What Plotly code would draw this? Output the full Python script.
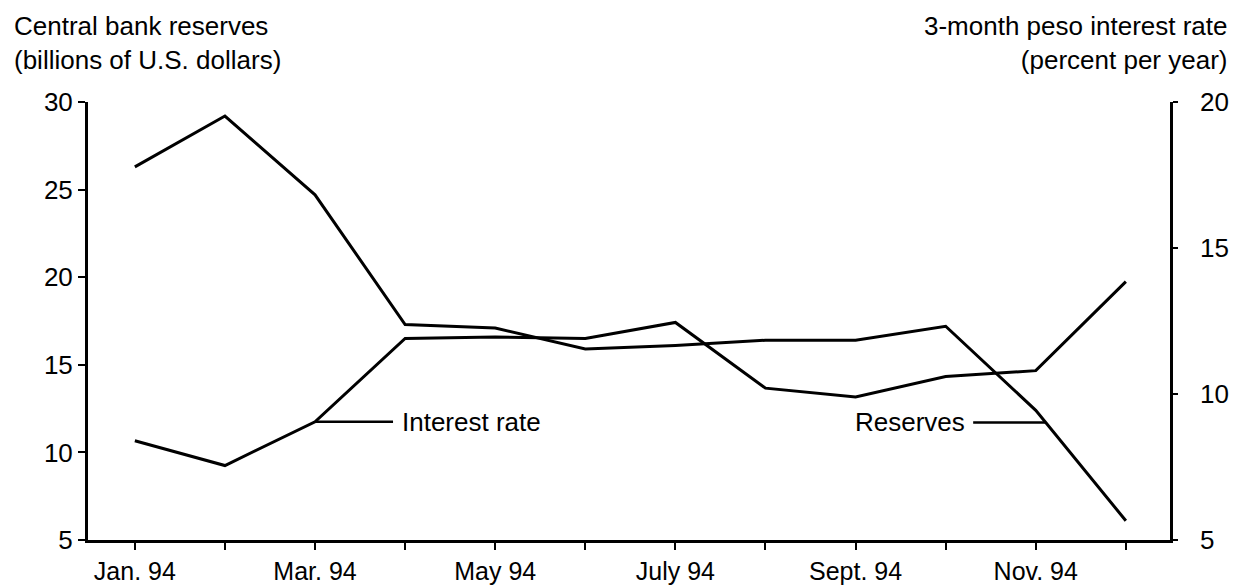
import numpy as np
import plotly.graph_objects as go

# months of 1994, with a label on every other tick
months = list(range(12))
month_labels = ["Jan. 94", "", "Mar. 94", "", "May 94", "", "July 94", "",
                "Sept. 94", "", "Nov. 94", ""]

# central bank reserves, billions of U.S. dollars (left axis)
reserves = [26.3, 29.2, 24.7, 17.3, 17.1, 15.9, 16.1, 16.4, 16.4, 17.2, 12.4, 6.1]
# 3-month peso interest rate, percent per year (right axis)
interest = [8.4, 7.55, 9.05, 11.9, 11.95, 11.9, 12.45, 10.2, 9.9, 10.6, 10.8, 13.85]

FONT = "Liberation Sans, Arial, Helvetica, sans-serif"
FS = 26

fig = go.Figure()

fig.add_trace(go.Scatter(
    x=months, y=reserves, mode="lines", name="Reserves",
    line=dict(color="black", width=3), yaxis="y"
))
fig.add_trace(go.Scatter(
    x=months, y=interest, mode="lines", name="Interest rate",
    line=dict(color="black", width=3), yaxis="y2"
))

# point on the reserves line where its label pointer lands
res_x = 10.11
res_y = float(np.interp(res_x, months, reserves))

# page has an 8px body margin, so the figure is sized/offset for it
fig.update_layout(
    width=1235, height=580,
    margin=dict(l=80, r=73, t=94, b=48),
    paper_bgcolor="white", plot_bgcolor="white",
    showlegend=False,
    font=dict(family=FONT, size=FS, color="black"),
    xaxis=dict(
        range=[-0.52, 11.49], tickvals=months, ticktext=month_labels,
        showline=True, linecolor="black", linewidth=3,
        ticks="outside", ticklen=7, tickwidth=2, tickcolor="black",
        tickfont=dict(size=25),
        automargin=False,
        showgrid=False, zeroline=False,
    ),
    yaxis=dict(
        range=[5, 30], tickvals=[5, 10, 15, 20, 25, 30],
        showline=True, linecolor="black", linewidth=3,
        ticks="outside", ticklen=7, tickwidth=2, tickcolor="black",
        ticklabelstandoff=0, automargin=False,
        showgrid=False, zeroline=False,
    ),
    yaxis2=dict(
        range=[5, 20], tickvals=[5, 10, 15, 20], overlaying="y", side="right",
        showline=True, linecolor="black", linewidth=2.5,
        ticks="outside", ticklen=5, tickwidth=2, tickcolor="black",
        ticklabelstandoff=17, automargin=False,
        showgrid=False, zeroline=False,
    ),
    annotations=[
        dict(text="Central bank reserves<br>(billions of U.S. dollars)",
             xref="paper", yref="paper", x=-0.0702, y=1.212,
             xanchor="left", yanchor="top", align="left", showarrow=False),
        dict(text="3-month peso interest rate<br>(percent per year)",
             xref="paper", yref="paper", x=1.0555, y=1.212,
             xanchor="right", yanchor="top", align="right", showarrow=False),
        dict(text="Interest rate", xref="x", yref="y2",
             x=months[2], y=interest[2], ax=156, ay=0, borderpad=8,
             showarrow=True, arrowhead=0, arrowwidth=2.5, arrowcolor="black"),
        dict(text="Reserves", xref="x", yref="y",
             x=res_x, y=res_y, ax=-136, ay=0, borderpad=8,
             showarrow=True, arrowhead=0, arrowwidth=2.5, arrowcolor="black"),
    ],
)

fig.write_html("out.html")
